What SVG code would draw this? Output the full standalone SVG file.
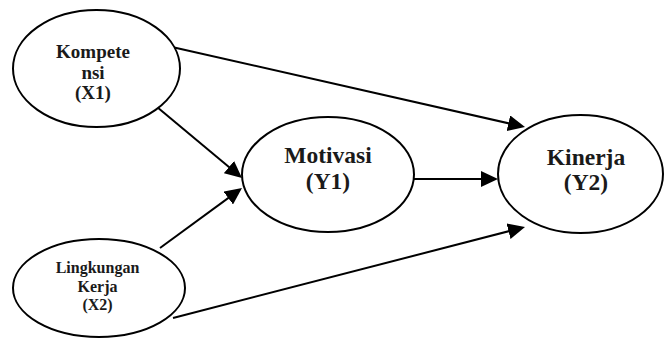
<svg xmlns="http://www.w3.org/2000/svg" width="667" height="348" viewBox="0 0 667 348">
<style>
.node ellipse{fill:#fff;stroke:#000;stroke-width:2}
.conn line{stroke:#000;stroke-width:2}
text{font-family:"Liberation Serif","Times New Roman",serif;text-anchor:middle;fill:#1a1a1a;font-weight:bold}
.s{font-size:19px}
.m{font-size:16px}
.l{font-size:23.5px}
</style>
<defs>
<marker id="ah" markerUnits="userSpaceOnUse" markerWidth="17" markerHeight="16" refX="7" refY="8" orient="auto">
<path d="M0,0 L17,8 L0,16 z" fill="#000"/>
</marker>
</defs>
<rect width="667" height="348" fill="#fff"/>
<g id="connectors" class="conn">
<line x1="172" y1="47" x2="515.25" y2="124.79" marker-end="url(#ah)"/>
<line x1="157" y1="107" x2="234.33" y2="171.59" marker-end="url(#ah)"/>
<line x1="160" y1="248" x2="233.93" y2="193.91" marker-end="url(#ah)"/>
<line x1="414" y1="179" x2="488" y2="179" marker-end="url(#ah)"/>
<line x1="173" y1="318" x2="515.32" y2="229.5" marker-end="url(#ah)"/>
</g>
<g id="kompetensi" class="node">
<ellipse cx="96.5" cy="68.5" rx="83.5" ry="58.5"/>
<text class="s" x="93" y="58">Kompete</text>
<text class="s" x="93" y="79">nsi</text>
<text class="s" x="93" y="99">(X1)</text>
</g>
<g id="lingkungan" class="node">
<ellipse cx="99" cy="288" rx="86" ry="49"/>
<text class="m" x="97.5" y="273">Lingkungan</text>
<text class="m" x="97.5" y="292">Kerja</text>
<text class="m" x="97.5" y="310">(X2)</text>
</g>
<g id="motivasi" class="node">
<ellipse cx="328" cy="174.5" rx="86" ry="57.5"/>
<text class="l" x="328" y="163">Motivasi</text>
<text class="l" x="328" y="189">(Y1)</text>
</g>
<g id="kinerja" class="node">
<ellipse cx="580.5" cy="174" rx="82.5" ry="59"/>
<text class="l" x="586" y="165">Kinerja</text>
<text class="l" x="586" y="190">(Y2)</text>
</g>
</svg>
